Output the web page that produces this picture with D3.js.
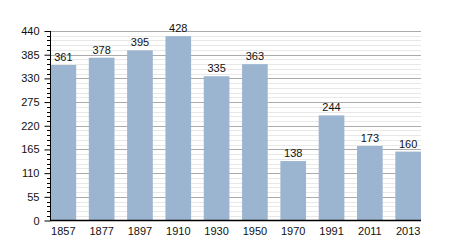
<!DOCTYPE html>
<html><head><meta charset="utf-8">
<script src="https://cdn.jsdelivr.net/npm/d3@7"></script>
<style>body{margin:0;background:#fff}svg{display:block}text{font-family:"Liberation Sans",Arial,sans-serif}</style>
</head><body>
<script>
const years = ["1857","1877","1897","1910","1930","1950","1970","1991","2011","2013"];
const population = [361,378,395,428,335,363,138,244,173,160];
const yTicks = [0,55,110,165,220,275,330,385,440];

(function(){
const W=450,H=250, mL=50.5, mR=421, mT=31, mB=220.5;
const svg=d3.select("body").append("svg").attr("width",W).attr("height",H);
const x=d3.scaleBand().domain(years).range([mL,mR]).paddingInner(0.33).paddingOuter(0);
const y=d3.scaleLinear().domain([0,440]).range([mB,mT]);

const minor=d3.range(0,441,11).filter(v=>v%55!==0);
svg.append("g").selectAll("line").data(minor).join("line")
 .attr("x1",mL).attr("x2",mR).attr("y1",d=>Math.round(y(d))+0.5).attr("y2",d=>Math.round(y(d))+0.5)
 .attr("stroke","#e8e8e8").attr("stroke-width",1);
svg.append("g").selectAll("line").data(yTicks.filter(v=>v>0)).join("line")
 .attr("x1",mL).attr("x2",mR).attr("y1",d=>Math.round(y(d))+0.5).attr("y2",d=>Math.round(y(d))+0.5)
 .attr("stroke","#ababab").attr("stroke-width",1);

svg.append("g").selectAll("rect").data(population).join("rect")
 .attr("x",(d,i)=>x(years[i])).attr("width",x.bandwidth())
 .attr("y",d=>y(d)).attr("height",d=>mB-y(d)).attr("fill","#9bb4cf");

svg.append("g").selectAll("text").data(population).join("text")
 .attr("x",(d,i)=>x(years[i])+x.bandwidth()/2).attr("y",d=>y(d)-4)
 .attr("text-anchor","middle").attr("font-size",11).attr("fill","#111").text(d=>d);

svg.append("g").selectAll("line").data(minor).join("line")
 .attr("x1",mL-3.5).attr("x2",mL).attr("y1",d=>Math.round(y(d))+0.5).attr("y2",d=>Math.round(y(d))+0.5)
 .attr("stroke","#000");
const ya=d3.axisLeft(y).tickValues(yTicks).tickSize(6).tickPadding(5);
const gy=svg.append("g").attr("transform",`translate(${mL},0)`).call(ya);
gy.select(".domain").remove();
gy.selectAll("text").attr("font-size",11).attr("fill","#111").attr("font-family","Liberation Sans,Arial,sans-serif");
svg.append("line").attr("x1",mL).attr("x2",mL).attr("y1",mT).attr("y2",mB).attr("stroke","#000");

const xa=d3.axisBottom(x).tickSize(0).tickPadding(7);
const gx=svg.append("g").attr("transform",`translate(0,${mB})`).call(xa);
gx.select(".domain").remove();
gx.selectAll("text").attr("font-size",11).attr("fill","#111").attr("font-family","Liberation Sans,Arial,sans-serif");
svg.append("line").attr("x1",mL-0.5).attr("x2",mR).attr("y1",mB).attr("y2",mB).attr("stroke","#000").attr("stroke-width",1.5);
})();
</script>
</body></html>
